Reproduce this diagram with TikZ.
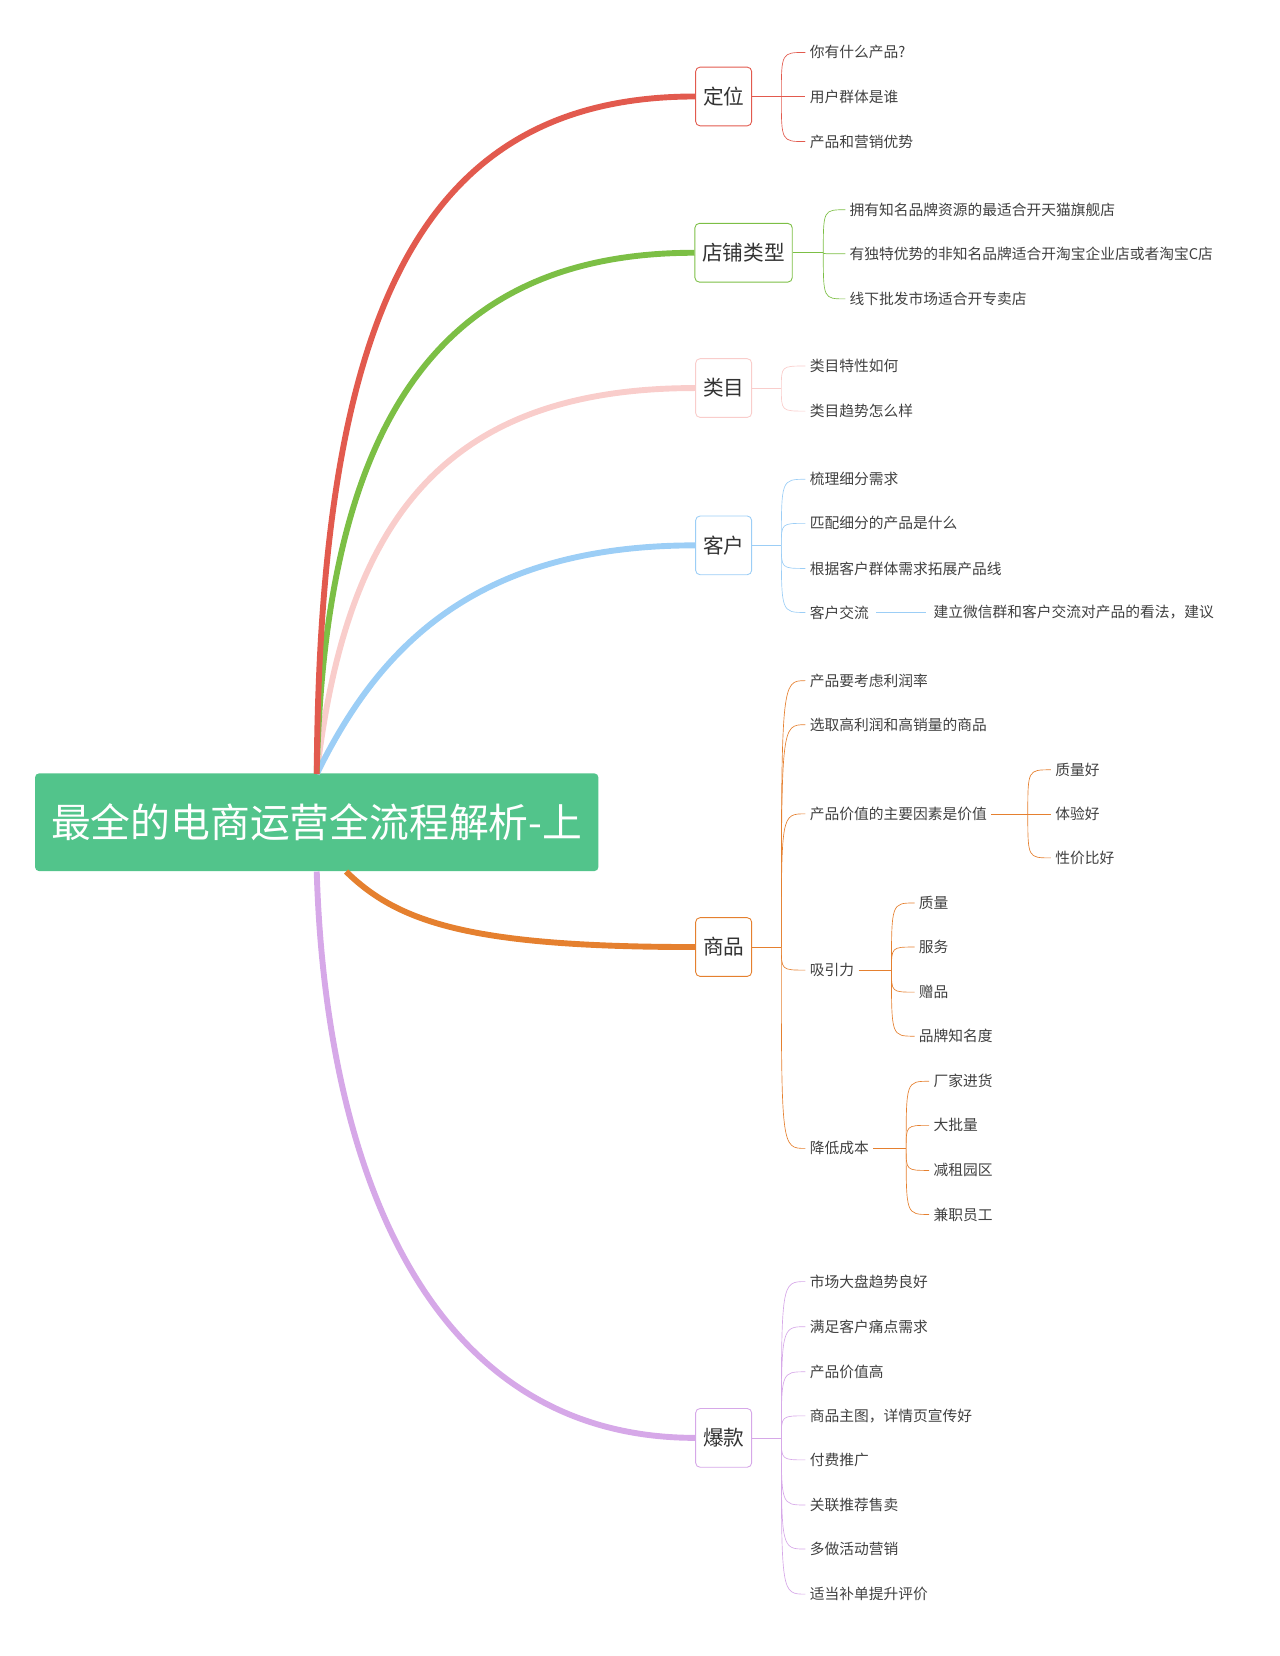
\documentclass[tikz,border=0pt]{standalone}
\usepackage{fontspec}
\setmainfont{Noto Sans CJK SC}
\definecolor{cred}{HTML}{E25A4E}
\definecolor{cgreen}{HTML}{7CBF45}
\definecolor{cpink}{HTML}{F9CDCB}
\definecolor{cblue}{HTML}{9CCEF6}
\definecolor{corange}{HTML}{E5802F}
\definecolor{clilac}{HTML}{D6A8E8}
\definecolor{croot}{HTML}{52C48B}
\begin{document}
\begin{tikzpicture}[x=0.05cm,y=-0.05cm,
  leaf/.style={anchor=west,inner ysep=0pt,inner xsep=0pt,outer xsep=6pt,font=\fontsize{20pt}{22pt}\selectfont,text=black!75},
  topic/.style={draw=#1,line width=1.2pt,rounded corners=6pt,fill=white,minimum height=2.8cm,inner xsep=10pt,font=\fontsize{28pt}{30pt}\selectfont,text=black!80},
  br/.style={#1,line width=8pt},
  tw/.style={#1,line width=0.9pt}]
\useasboundingbox (0,0) rectangle (1220,1579);
% root
\node[fill=croot,rounded corners=5pt,minimum width=26.85cm,minimum height=4.65cm,text=white,font=\fontsize{54pt}{56pt}\selectfont] (root) at (302,784) {最全的电商运营全流程解析-上};
\coordinate (rt) at (302,738);
\coordinate (rb) at (302,831);
\coordinate (rb2) at (330,831);
% topics
\node[topic=cred] (t1) at (690,92) {定位};
\node[topic=cgreen] (t2) at (709,241) {店铺类型};
\node[topic=cpink] (t3) at (690,370) {类目};
\node[topic=cblue] (t4) at (690,520) {客户};
\node[topic=corange] (t5) at (690,903) {商品};
\node[topic=clilac] (t6) at (690,1371) {爆款};
% branches
\draw[br=cpink] (rt) .. controls (330,500) and (420,370) .. (t3.west);
\draw[br=cblue] (rt) .. controls (360,620) and (450,520) .. (t4.west);
\draw[br=cgreen] (rt) .. controls (310,400) and (420,241) .. (t2.west);
\draw[br=cred] (rt) .. controls (305,300) and (400,92) .. (t1.west);
\draw[br=corange] (rb2) .. controls (380,880) and (450,903) .. (t5.west);
\draw[br=clilac] (rb) .. controls (310,1100) and (400,1371) .. (t6.west);
% 定位
\coordinate (j1) at (745,92);
\draw[tw=cred] (t1.east) -- (j1);
\foreach \y/\t [count=\i] in {50/你有什么产品?,92/用户群体是谁,135/产品和营销优势}{
  \node[leaf] (a\i) at (768,\y) {\t};
  \draw[tw=cred] (j1) .. controls (745,\y) .. (a\i.west);}
% 店铺类型
\coordinate (j2) at (785,241);
\draw[tw=cgreen] (t2.east) -- (j2);
\foreach \y/\t [count=\i] in {200/拥有知名品牌资源的最适合开天猫旗舰店,242/有独特优势的非知名品牌适合开淘宝企业店或者淘宝C店,285/线下批发市场适合开专卖店}{
  \node[leaf] (b\i) at (806,\y) {\t};
  \draw[tw=cgreen] (j2) .. controls (785,\y) .. (b\i.west);}
% 类目
\coordinate (j3) at (745,370);
\draw[tw=cpink] (t3.east) -- (j3);
\foreach \y/\t [count=\i] in {349/类目特性如何,392/类目趋势怎么样}{
  \node[leaf] (c\i) at (768,\y) {\t};
  \draw[tw=cpink] (j3) .. controls (745,\y) .. (c\i.west);}
% 客户
\coordinate (j4) at (745,520);
\draw[tw=cblue] (t4.east) -- (j4);
\foreach \y/\t [count=\i] in {457/梳理细分需求,499/匹配细分的产品是什么,542/根据客户群体需求拓展产品线,584/客户交流}{
  \node[leaf] (d\i) at (768,\y) {\t};
  \draw[tw=cblue] (j4) .. controls (745,\y) .. (d\i.west);}
\node[leaf] (d5) at (886,584) {建立微信群和客户交流对产品的看法，建议};
\draw[tw=cblue] ([xshift=4pt]d4.east) -- ([xshift=-4pt]d5.west);
% 商品
\coordinate (j5) at (745,903);
\draw[tw=corange] (t5.east) -- (j5);
\foreach \y/\t [count=\i] in {649/产品要考虑利润率,691/选取高利润和高销量的商品,776/产品价值的主要因素是价值,925/吸引力,1095/降低成本}{
  \node[leaf] (e\i) at (768,\y) {\t};
  \draw[tw=corange] (j5) .. controls (745,\y) .. (e\i.west);}
\coordinate (k1) at (980,776);
\draw[tw=corange] (e3.east) -- (k1);
\foreach \y/\t [count=\i] in {734/质量好,776/体验好,818/性价比好}{
  \node[leaf] (f\i) at (1002,\y) {\t};
  \draw[tw=corange] (k1) .. controls (980,\y) .. (f\i.west);}
\coordinate (k2) at (850,925);
\draw[tw=corange] (e4.east) -- (k2);
\foreach \y/\t [count=\i] in {861/质量,903/服务,946/赠品,988/品牌知名度}{
  \node[leaf] (g\i) at (872,\y) {\t};
  \draw[tw=corange] (k2) .. controls (850,\y) .. (g\i.west);}
\coordinate (k3) at (864,1095);
\draw[tw=corange] (e5.east) -- (k3);
\foreach \y/\t [count=\i] in {1031/厂家进货,1073/大批量,1116/减租园区,1158/兼职员工}{
  \node[leaf] (h\i) at (886,\y) {\t};
  \draw[tw=corange] (k3) .. controls (864,\y) .. (h\i.west);}
% 爆款
\coordinate (j6) at (745,1371);
\draw[tw=clilac] (t6.east) -- (j6);
\foreach \y/\t [count=\i] in {1222/市场大盘趋势良好,1265/满足客户痛点需求,1308/产品价值高,1350/商品主图，详情页宣传好,1392/付费推广,1435/关联推荐售卖,1477/多做活动营销,1520/适当补单提升评价}{
  \node[leaf] (m\i) at (768,\y) {\t};
  \draw[tw=clilac] (j6) .. controls (745,\y) .. (m\i.west);}
\end{tikzpicture}
\end{document}
